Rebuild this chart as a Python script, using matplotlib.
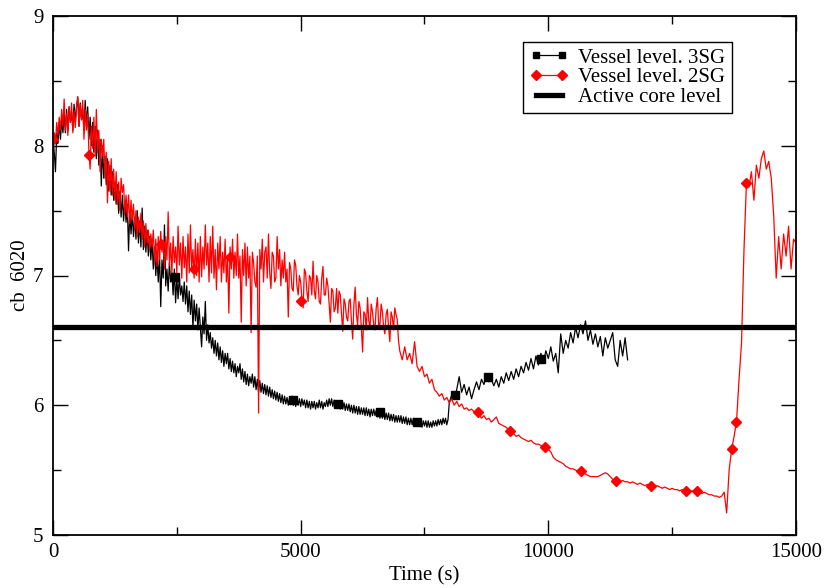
import numpy as np
import matplotlib
matplotlib.use("Agg")
import matplotlib.pyplot as plt
from matplotlib.lines import Line2D
from matplotlib.ticker import MultipleLocator

plt.rcParams['font.family'] = ['Liberation Serif', 'DejaVu Serif']
plt.rcParams['font.size'] = 15

# vessel level, 3SG case: every 25 s up to 8000 s, then every 50 s
t_3sg = np.concatenate([np.arange(0, 8000, 25), np.arange(8000, 11601, 50)])
lvl_3sg = [
    8.05, 7.95, 7.80, 8.10, 8.02, 8.18, 8.05, 8.20, 8.10, 8.25,
    8.10, 8.28, 8.12, 8.30, 8.18, 8.26, 8.12, 8.32, 8.18, 8.30,
    8.37, 8.15, 8.33, 8.20, 8.28, 8.12, 8.35, 8.15, 8.30, 8.05,
    8.22, 8.00, 8.18, 7.95, 8.15, 7.90, 8.12, 7.85, 8.05, 7.69,
    8.00, 7.75, 7.92, 7.70, 7.90, 7.65, 7.85, 7.62, 7.80, 7.58,
    7.72, 7.55, 7.70, 7.48, 7.65, 7.45, 7.62, 7.42, 7.58, 7.41,
    7.55, 7.19, 7.50, 7.32, 7.48, 7.30, 7.45, 7.28, 7.50, 7.25,
    7.42, 7.22, 7.52, 7.20, 7.38, 7.18, 7.35, 7.15, 7.30, 7.12,
    7.28, 7.05, 7.22, 7.00, 7.15, 6.95, 7.18, 6.76, 7.12, 6.98,
    7.39, 6.92, 7.05, 6.88, 7.10, 6.95, 7.02, 6.85, 7.05, 6.79,
    6.98, 6.82, 7.00, 6.85, 6.92, 6.80, 6.95, 6.78, 6.92, 6.72,
    6.88, 6.70, 6.85, 6.60, 6.81, 6.65, 6.78, 6.58, 6.75, 6.60,
    6.45, 6.68, 6.55, 6.80, 6.50, 6.62, 6.48, 6.56, 6.44, 6.52,
    6.40, 6.50, 6.38, 6.48, 6.35, 6.45, 6.33, 6.42, 6.30, 6.40,
    6.32, 6.40, 6.28, 6.36, 6.26, 6.34, 6.25, 6.32, 6.22, 6.30,
    6.25, 6.32, 6.20, 6.28, 6.18, 6.26, 6.16, 6.24, 6.15, 6.22,
    6.17, 6.24, 6.14, 6.22, 6.12, 6.20, 6.10, 6.19, 6.10, 6.17,
    6.09, 6.16, 6.08, 6.15, 6.07, 6.14, 6.06, 6.12, 6.05, 6.11,
    6.04, 6.10, 6.03, 6.09, 6.02, 6.08, 6.01, 6.07, 6.01, 6.06,
    6.00, 6.06, 6.01, 6.07, 6.00, 6.05, 5.99, 6.06, 6.00, 6.05,
    5.99, 6.05, 6.00, 6.04, 5.98, 6.04, 5.98, 6.03, 5.97, 6.03,
    5.98, 6.03, 5.97, 6.02, 5.98, 6.04, 5.98, 6.03, 5.97, 6.02,
    5.99, 6.04, 5.99, 6.05, 6.00, 6.05, 5.99, 6.04, 5.98, 6.03,
    5.98, 6.03, 5.97, 6.02, 5.97, 6.02, 5.96, 6.01, 5.96, 6.01,
    5.95, 6.00, 5.94, 6.00, 5.94, 5.99, 5.93, 5.99, 5.93, 5.98,
    5.93, 5.98, 5.92, 5.98, 5.92, 5.97, 5.91, 5.97, 5.92, 5.97,
    5.92, 5.96, 5.91, 5.96, 5.90, 5.95, 5.90, 5.95, 5.89, 5.94,
    5.89, 5.94, 5.88, 5.93, 5.88, 5.93, 5.87, 5.92, 5.87, 5.92,
    5.87, 5.92, 5.86, 5.91, 5.86, 5.91, 5.85, 5.90, 5.85, 5.90,
    5.85, 5.90, 5.84, 5.89, 5.84, 5.89, 5.84, 5.88, 5.83, 5.88,
    5.84, 5.88, 5.83, 5.88, 5.83, 5.87, 5.83, 5.88, 5.84, 5.88,
    5.84, 5.89, 5.85, 5.89, 5.85, 5.90, 5.86, 5.90, 5.85, 5.89,
    # 8000 s onward
    6.02, 6.08, 6.05, 6.12, 6.22, 6.10, 6.16, 6.08, 6.14, 6.05,
    6.12, 6.18, 6.12, 6.20, 6.16, 6.23, 6.18, 6.20, 6.15, 6.20,
    6.14, 6.22, 6.17, 6.25, 6.19, 6.26, 6.20, 6.28, 6.22, 6.30,
    6.25, 6.33, 6.27, 6.36, 6.28, 6.38, 6.31, 6.40, 6.33, 6.42,
    6.36, 6.45, 6.34, 6.40, 6.25, 6.55, 6.40, 6.50, 6.44, 6.56,
    6.48, 6.60, 6.52, 6.62, 6.55, 6.65, 6.50, 6.58, 6.47, 6.55,
    6.45, 6.53, 6.38, 6.52, 6.44, 6.50, 6.56, 6.35, 6.30, 6.50,
    6.38, 6.52, 6.35,
]

# vessel level, 2SG case: every 25 s up to 7000 s, then every 50 s
t_2sg = np.concatenate([np.arange(0, 7000, 25), np.arange(7000, 15001, 50)])
lvl_2sg = [
    8.05, 8.10, 8.02, 8.18, 8.08, 8.22, 8.12, 8.28, 8.15, 8.36,
    8.12, 8.25, 8.08, 8.30, 8.18, 8.33, 8.10, 8.27, 8.14, 8.30,
    8.38, 8.15, 8.32, 8.20, 8.35, 8.05, 8.28, 8.12, 8.25, 7.95,
    7.82, 8.15, 7.98, 8.22, 7.92, 8.28, 7.95, 8.12, 7.80, 8.05,
    7.92, 8.05, 7.75, 7.95, 7.56, 7.88, 7.65, 7.90, 7.62, 7.82,
    7.58, 7.80, 7.55, 7.72, 7.50, 7.75, 7.64, 7.70, 7.48, 7.62,
    7.45, 7.62, 7.40, 7.58, 7.43, 7.55, 7.35, 7.50, 7.30, 7.45,
    7.33, 7.48, 7.28, 7.42, 7.22, 7.40, 7.25, 7.35, 7.20, 7.32,
    7.22, 7.35, 7.10, 7.28, 7.07, 7.30, 7.12, 7.34, 7.18, 7.26,
    7.05, 7.30, 7.12, 7.49, 7.08, 7.25, 7.02, 7.30, 7.10, 7.22,
    7.02, 7.38, 7.08, 7.25, 6.98, 7.30, 7.06, 7.22, 6.95, 7.32,
    7.02, 7.39, 7.05, 7.20, 6.98, 7.28, 7.00, 7.25, 6.95, 7.30,
    6.99, 7.22, 7.05, 7.39, 7.08, 7.25, 6.95, 7.30, 7.02, 7.38,
    6.98, 7.20, 6.89, 7.25, 7.05, 7.30, 6.95, 7.18, 7.02, 7.28,
    6.95, 7.15, 6.71, 7.22, 7.05, 7.28, 6.98, 7.18, 7.00, 7.32,
    6.98, 7.15, 6.64, 7.20, 7.00, 7.25, 6.92, 7.22, 6.98, 7.15,
    6.56, 7.18, 7.10, 6.95, 6.91, 7.15, 5.94, 7.20, 7.05, 7.28,
    6.95, 7.18, 7.22, 6.98, 7.32, 7.02, 6.90, 7.18, 7.15, 6.95,
    6.98, 7.30, 7.05, 7.20, 6.92, 7.12, 6.98, 7.18, 6.95, 7.05,
    6.68, 7.10, 7.05, 6.90, 6.88, 7.12, 7.08, 6.92, 6.85, 7.00,
    6.95, 6.82, 6.75, 7.05, 7.02, 6.88, 6.80, 7.00, 6.98, 6.85,
    7.11, 6.88, 6.82, 7.00, 6.95, 6.80, 6.78, 6.98, 7.07, 6.85,
    6.85, 6.98, 6.92, 6.78, 6.64, 6.90, 6.88, 6.72, 6.75, 6.90,
    6.71, 6.88, 6.85, 6.70, 6.57, 6.82, 6.78, 6.68, 6.65, 6.80,
    6.82, 6.65, 6.51, 6.78, 6.91, 6.70, 6.62, 6.80, 6.75, 6.60,
    6.41, 6.72, 6.70, 6.58, 6.83, 6.65, 6.60, 6.78, 6.72, 6.62,
    6.58, 6.75, 6.83, 6.62, 6.62, 6.78, 6.72, 6.60, 6.55, 6.70,
    6.74, 6.60, 6.49, 6.72, 6.68, 6.58, 6.75, 6.70, 6.66, 6.50,
    # 7000 s onward
    6.42, 6.35, 6.45, 6.35, 6.40, 6.32, 6.49, 6.30, 6.26, 6.30,
    6.22, 6.24, 6.17, 6.20, 6.12, 6.10, 6.07, 6.09, 6.04, 6.06,
    6.02, 6.05, 6.00, 6.03, 5.99, 6.01, 5.97, 5.98, 5.96, 5.97,
    5.95, 5.95, 5.93, 5.90, 5.92, 5.89, 5.90, 5.87, 5.89, 5.91,
    5.86, 5.85, 5.84, 5.83, 5.81, 5.80, 5.78, 5.76, 5.77, 5.75,
    5.74, 5.73, 5.72, 5.73, 5.71, 5.70, 5.70, 5.69, 5.68, 5.67,
    5.66, 5.64, 5.60, 5.58, 5.57, 5.56, 5.55, 5.53, 5.52, 5.51,
    5.51, 5.50, 5.49, 5.49, 5.48, 5.47, 5.46, 5.45, 5.45, 5.45,
    5.45, 5.46, 5.47, 5.48, 5.47, 5.45, 5.43, 5.42, 5.42, 5.41,
    5.42, 5.41, 5.41, 5.40, 5.41, 5.40, 5.39, 5.40, 5.39, 5.38,
    5.39, 5.38, 5.38, 5.37, 5.38, 5.37, 5.36, 5.37, 5.36, 5.35,
    5.36, 5.35, 5.35, 5.34, 5.35, 5.34, 5.34, 5.33, 5.34, 5.33,
    5.34, 5.33, 5.32, 5.33, 5.32, 5.31, 5.31, 5.30, 5.30, 5.29,
    5.30, 5.33, 5.17, 5.50, 5.66, 5.76, 5.88, 6.20, 6.48, 7.20,
    7.72, 7.68, 7.80, 7.58, 7.85, 7.75, 7.90, 7.96, 7.82, 7.88,
    7.75, 7.46, 6.98, 7.30, 7.05, 7.32, 7.15, 7.38, 7.05, 7.28,
    7.25,
]

# symbol positions along each curve
mk_t_3sg = [0, 2460, 4840, 5750, 6610, 7340, 8120, 8790, 9860]
mk_v_3sg = [8.05, 6.99, 6.04, 6.01, 5.95, 5.87, 6.08, 6.22, 6.36]
mk_t_2sg = [0, 730, 2180, 2840, 3570, 5000, 8570, 9230, 9940, 10660,
            11370, 12080, 12780, 13000, 13700, 13790, 14000]
mk_v_2sg = [8.05, 7.93, 7.24, 7.05, 7.14, 6.80, 5.95, 5.80, 5.68, 5.49,
            5.42, 5.38, 5.34, 5.34, 5.66, 5.87, 7.71]

core_level = 6.6

fig = plt.figure(figsize=(8.27, 5.88), dpi=100)
ax = fig.add_axes([53 / 827, 1 - 535 / 588, 743 / 827, 519 / 588])

ax.plot(t_3sg, lvl_3sg, color='black', lw=0.9)
ax.plot(mk_t_3sg, mk_v_3sg, 's', color='black', ms=5.5, ls='none')
ax.plot(t_2sg, lvl_2sg, color='red', lw=0.9)
ax.plot(mk_t_2sg, mk_v_2sg, 'D', color='red', ms=5.5, ls='none')
ax.axhline(core_level, color='black', lw=3.8)

ax.set_xlim(0, 15000)
ax.set_ylim(5, 9)
ax.xaxis.set_major_locator(MultipleLocator(5000))
ax.xaxis.set_minor_locator(MultipleLocator(2500))
ax.yaxis.set_major_locator(MultipleLocator(1))
ax.yaxis.set_minor_locator(MultipleLocator(0.5))
ax.tick_params(which='both', direction='in', top=True, right=True, width=1)
ax.tick_params(which='major', length=11)
ax.tick_params(which='minor', length=5.5)
ax.tick_params(axis='x', pad=6)
ax.tick_params(axis='y', pad=7)
for s in ax.spines.values():
    s.set_linewidth(1.3)

ax.set_xlabel('Time (s)', labelpad=3)
ax.set_ylabel('cb  6020', labelpad=2)

handles = [
    Line2D([], [], color='black', lw=0.9, marker='s', ms=5),
    Line2D([], [], color='red', lw=0.9, marker='D', ms=5),
    Line2D([], [], color='black', lw=3.8),
]
labels = ['Vessel level. 3SG', 'Vessel level. 2SG', 'Active core level']
leg = ax.legend(handles, labels, loc='upper left',
                bbox_to_anchor=(0.6326, 0.950), numpoints=2,
                handlelength=1.85, handletextpad=0.5, labelspacing=0.0,
                borderpad=0.3, borderaxespad=0, fancybox=False,
                framealpha=1, edgecolor='black')
leg.get_frame().set_linewidth(1.0)

fig.savefig('out.png', dpi=100)
